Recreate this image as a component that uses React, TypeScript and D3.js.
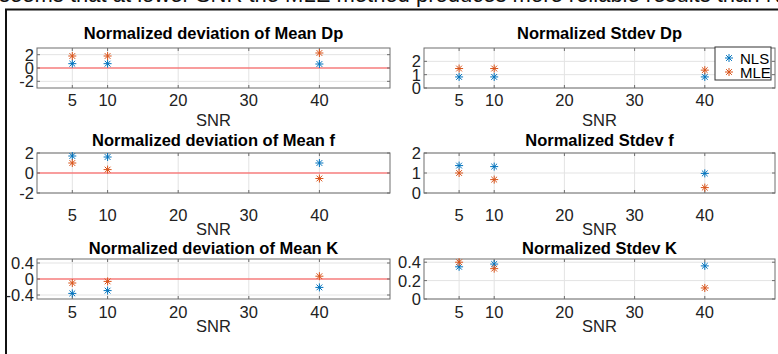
import { useEffect, useRef } from 'react';
import * as d3 from 'd3';

// SNR values where runs were made
const snr = [5, 10, 40];
const xTicks = [5, 10, 20, 30, 40];
const xDomain = [0, 50];

// series values
const meanDpNLS = [0.65, 0.65, 0.6];
const meanDpMLE = [1.8, 1.8, 2.25];
const stdDpNLS = [0.83, 0.83, 0.83];
const stdDpMLE = [1.46, 1.46, 1.34];
const meanFNLS = [1.7, 1.6, 1.0];
const meanFMLE = [1.0, 0.34, -0.55];
const stdFNLS = [1.37, 1.32, 0.98];
const stdFMLE = [1.0, 0.67, 0.27];
const meanKNLS = [-0.36, -0.29, -0.21];
const meanKMLE = [-0.1, -0.06, 0.07];
const stdKNLS = [0.35, 0.38, 0.36];
const stdKMLE = [0.4, 0.33, 0.12];

const titles = [
  'Normalized deviation of Mean Dp', 'Normalized Stdev Dp',
  'Normalized deviation of Mean f', 'Normalized Stdev f',
  'Normalized deviation of Mean K', 'Normalized Stdev K',
];
const yTicks = [[-2, 0, 2], [0, 1, 2], [-2, 0, 2], [0, 1, 2], [-0.4, 0, 0.4], [0, 0.2, 0.4]];
const yDomains = [[-3, 3], [0, 3], [-2, 2], [0, 2], [-0.5, 0.5], [0, 0.435]];
const nlsSeries = [meanDpNLS, stdDpNLS, meanFNLS, stdFNLS, meanKNLS, stdKNLS];
const mleSeries = [meanDpMLE, stdDpMLE, meanFMLE, stdFMLE, meanKMLE, stdKMLE];
const legendNames = ['NLS', 'MLE'];

const topText = 'seems that at lower SNR the MLE method produces more reliable results than NLS';

const BLUE = '#0072BD';
const ORANGE = '#D95319';
const FONT = '"Liberation Sans", Arial, sans-serif';

export default function App() {
  const svgRef = useRef<SVGSVGElement | null>(null);
  const width = 778;
  const height = 354;

  useEffect(() => {
    if (!svgRef.current) return;
    const svg = d3.select(svgRef.current);
    svg.selectAll('*').remove();

    svg.append('rect').attr('width', width).attr('height', height).attr('fill', '#fff');

    // cut-off sentence above the figure
    svg.append('text')
      .attr('x', -1).attr('y', 2)
      .style('font-family', FONT).style('font-size', '22px')
      .attr('fill', '#111')
      .text(topText);

    // figure frame
    svg.append('path')
      .attr('d', `M${width + 2},9.5 H6 V${height + 2}`)
      .attr('fill', 'none').attr('stroke', '#111').attr('stroke-width', 2);

    const cols = [[37, 390], [424, 775]];
    const rowTop = [48, 153, 259];
    const plotH = 40;
    const titleY = [33, 140, 248];
    const tickLabelY = [100, 215, 312];
    const snrY = [120, 229, 326];

    titles.forEach((title, i) => {
      const row = Math.floor(i / 2);
      const col = i % 2;
      const [x0, x1] = cols[col];
      const y0 = rowTop[row];
      const y1 = y0 + plotH;

      const x = d3.scaleLinear().domain(xDomain).range([x0, x1]);
      const y = d3.scaleLinear().domain(yDomains[i]).range([y1, y0]);
      const g = svg.append('g');

      // grid
      g.selectAll('.gx').data(xTicks).enter().append('line')
        .attr('x1', d => x(d)).attr('x2', d => x(d))
        .attr('y1', y0).attr('y2', y1)
        .attr('stroke', '#e3e3e3').attr('stroke-width', 1);
      g.selectAll('.gy').data(yTicks[i]).enter().append('line')
        .attr('x1', x0).attr('x2', x1)
        .attr('y1', d => y(d)).attr('y2', d => y(d))
        .attr('stroke', '#e3e3e3').attr('stroke-width', 1);

      // zero reference line for the mean panels
      if (col === 0) {
        g.append('line')
          .attr('x1', x0).attr('x2', x1)
          .attr('y1', y(0)).attr('y2', y(0))
          .attr('stroke', '#ff4a4a').attr('stroke-width', 1.2);
      }

      // axes box with inward ticks
      const axisColor = '#6e6e6e';
      g.append('rect')
        .attr('x', x0).attr('y', y0).attr('width', x1 - x0).attr('height', plotH)
        .attr('fill', 'none').attr('stroke', axisColor).attr('stroke-width', 1);
      const tl = 3;
      xTicks.forEach(t => {
        g.append('line').attr('x1', x(t)).attr('x2', x(t)).attr('y1', y1).attr('y2', y1 - tl).attr('stroke', axisColor);
        g.append('line').attr('x1', x(t)).attr('x2', x(t)).attr('y1', y0).attr('y2', y0 + tl).attr('stroke', axisColor);
      });
      yTicks[i].forEach(t => {
        g.append('line').attr('x1', x0).attr('x2', x0 + tl).attr('y1', y(t)).attr('y2', y(t)).attr('stroke', axisColor);
        g.append('line').attr('x1', x1).attr('x2', x1 - tl).attr('y1', y(t)).attr('y2', y(t)).attr('stroke', axisColor);
      });

      // tick labels
      g.selectAll('.xl').data(xTicks).enter().append('text')
        .attr('x', d => x(d)).attr('y', tickLabelY[row])
        .attr('text-anchor', 'middle').attr('dominant-baseline', 'central')
        .style('font-family', FONT).style('font-size', '16.5px').attr('fill', '#222')
        .text(d => String(d));
      g.selectAll('.yl').data(yTicks[i]).enter().append('text')
        .attr('x', x0 - 3).attr('y', d => y(d))
        .attr('text-anchor', 'end').attr('dominant-baseline', 'central')
        .style('font-family', FONT).style('font-size', '16.5px').attr('fill', '#222')
        .text(d => String(d));

      // title and x label
      g.append('text')
        .attr('x', (x0 + x1) / 2).attr('y', titleY[row])
        .attr('text-anchor', 'middle').attr('dominant-baseline', 'central')
        .style('font-family', FONT).style('font-size', '16.5px').style('font-weight', 'bold')
        .attr('fill', '#000').text(title);
      g.append('text')
        .attr('x', (x0 + x1) / 2).attr('y', snrY[row])
        .attr('text-anchor', 'middle').attr('dominant-baseline', 'central')
        .style('font-family', FONT).style('font-size', '16.5px')
        .attr('fill', '#222').text('SNR');

      // asterisk markers
      const star = (sel: any, cx: number, cy: number, color: string) => {
        const r = 4;
        const d = r * 0.72;
        sel.append('path')
          .attr('d', `M${cx - r},${cy}H${cx + r}M${cx},${cy - r}V${cy + r}M${cx - d},${cy - d}L${cx + d},${cy + d}M${cx - d},${cy + d}L${cx + d},${cy - d}`)
          .attr('stroke', color).attr('stroke-width', 1).attr('fill', 'none');
      };
      nlsSeries[i].forEach((v, k) => star(g, x(snr[k]), y(v), BLUE));
      mleSeries[i].forEach((v, k) => star(g, x(snr[k]), y(v), ORANGE));

      // legend in the first right panel
      if (i === 1) {
        const lg = g.append('g');
        lg.append('rect')
          .attr('x', 715).attr('y', 47).attr('width', 56).attr('height', 33)
          .attr('fill', '#fff').attr('stroke', '#333').attr('stroke-width', 1);
        legendNames.forEach((name, k) => {
          const ly = 58 + k * 14;
          star(lg, 729, ly, k === 0 ? BLUE : ORANGE);
          lg.append('text')
            .attr('x', 740).attr('y', ly)
            .attr('dominant-baseline', 'central')
            .style('font-family', FONT).style('font-size', '15px')
            .attr('fill', '#000').text(name);
        });
      }
    });
  }, []);

  return (
    <div style={{ position: 'fixed', left: 0, top: 0 }}>
      <svg ref={svgRef} width={width} height={height} style={{ display: 'block' }}></svg>
    </div>
  );
}
